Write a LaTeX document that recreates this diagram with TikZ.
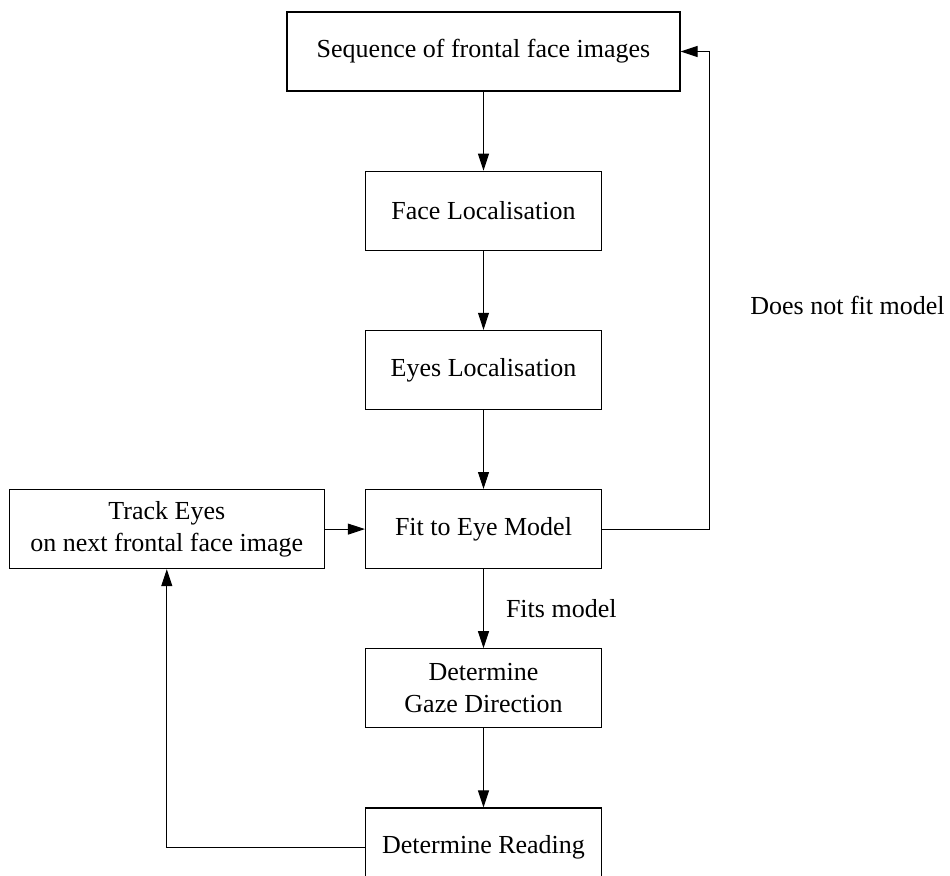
\documentclass[tikz,border=0pt]{standalone}
\usepackage{fontspec}
\setmainfont{Liberation Serif}
\usetikzlibrary{arrows.meta, positioning}

\begin{document}
\begin{tikzpicture}[
    node distance=39.5pt and 20pt,
    stage/.style={rectangle, draw, line width=0.6pt, minimum width=118pt, minimum height=39.5pt, align=center, inner sep=0pt, font=\fontsize{13pt}{15.8pt}\selectfont},
    lbl/.style={inner sep=0pt, font=\fontsize{13pt}{15.8pt}\selectfont},
    arrow/.style={-{Triangle[length=8.5pt, width=5.5pt]}, line width=0.5pt},
]
\useasboundingbox (0,0) rectangle (475pt,-437.5pt);

% Main column
\node[stage, minimum width=196.5pt] (frames) at (241.75pt,-25.75pt) {Sequence of frontal face images};
\node[stage, below=of frames] (face) {Face Localisation};
\node[stage, below=of face] (eyes) {Eyes Localisation};
\node[stage, below=of eyes] (fit) {Fit to Eye Model};
\node[stage, below=of fit] (gaze) {Determine\\Gaze Direction};
\node[stage, below=of gaze] (reading) {Determine Reading};

% Tracking box
\node[stage, minimum width=157.5pt, left=of fit] (track) {Track Eyes\\on next frontal face image};

% Labels
\node[lbl, anchor=base west] (nofit) at (375pt,-157pt) {Does not fit model};

% Arrows
\draw[arrow] (frames) -- (face);
\draw[arrow] (face) -- (eyes);
\draw[arrow] (eyes) -- (fit);
\draw[arrow] (fit) -- node[lbl, right=11pt] (fits) {Fits model} (gaze);
\draw[arrow] (gaze) -- (reading);
\draw[arrow] (track) -- (fit);
\draw[arrow] (fit.east) -- ++(53.75pt,0) |- (frames.east);
\draw[arrow] (reading.west) -| (track.south);

\end{tikzpicture}
\end{document}
